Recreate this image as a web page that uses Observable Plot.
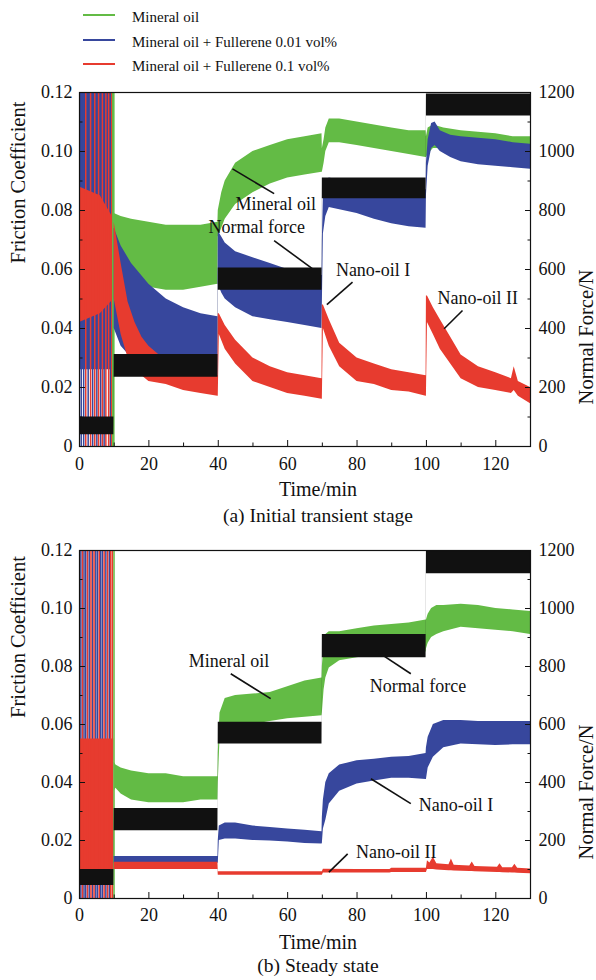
<!DOCTYPE html>
<html>
<head>
<meta charset="utf-8">
<script src="https://cdn.jsdelivr.net/npm/d3@7"></script>
<script src="https://cdn.jsdelivr.net/npm/@observablehq/plot@0.6"></script>
<style>
  body { margin: 0; background: #fff; font-family: "Liberation Serif", "Times New Roman", serif; color: #111; }
  #fig { position: relative; width: 596px; height: 980px; overflow: hidden; background: #fff; }
  .sw { position: absolute; left: 83px; width: 32px; height: 0; border-top: 2px solid; }
  .lab { position: absolute; left: 132px; font-size: 15px; line-height: 18px; white-space: nowrap; }
  #pa { position: absolute; left: 0; top: 75px; }
  #pb { position: absolute; left: 0; top: 530px; }
</style>
</head>
<body>
<div id="fig">
  <div id="legend"></div>
  <div id="pa"></div>
  <div id="pb"></div>
</div>
<script>
// ---- series names and colours ----
const seriesNames = ["Mineral oil", "Mineral oil + Fullerene 0.01 vol%", "Mineral oil + Fullerene 0.1 vol%"];
const seriesColors = ["#63bb45", "#37479d", "#e73b2f"];
const forceColor = "#111111";
const N_PER_UNIT = 10000; // 1200 N on the right axis sits level with 0.12 on the left

// ---- axis ticks ----
const xMajor = [0, 20, 40, 60, 80, 100, 120];
const xMinor = [10, 30, 50, 70, 90, 110, 130];
const yMajor = [0, 0.02, 0.04, 0.06, 0.08, 0.10, 0.12];
const yMinor = [0.01, 0.03, 0.05, 0.07, 0.09, 0.11];

// ================= (a) Initial transient stage =================
// running-in oscillation, 0-10 min
const spikeBlueA = [0.5, 1.2, 2.5, 3.8, 5.0, 6.1, 7.1, 8.9];
const spikeRedA = [1.8, 3.2, 4.4, 5.5, 6.6, 7.6, 8.4, 9.3];
const spikeGreenA = [9.6, 9.9];
const burstBlueA_t = [0, 9.9], burstBlueA_lo = [0.026, 0.026], burstBlueA_hi = [0.12, 0.12];
const burstRedA_t = [0, 6, 9.9], burstRedA_lo = [0.042, 0.045, 0.050], burstRedA_hi = [0.088, 0.085, 0.077];

// friction coefficient envelopes (lower / upper edge of the noisy trace)
const greenA_t  = [10, 12, 15, 20, 25, 30, 35, 39.9, 40, 41, 42, 45, 50, 55, 60, 65, 69.9, 70, 70.5, 71, 72, 75, 80, 85, 90, 95, 99.9, 100, 100.5, 102, 105, 110, 115, 120, 125, 130];
const greenA_hi = [0.079, 0.078, 0.077, 0.076, 0.075, 0.075, 0.075, 0.076, 0.080, 0.086, 0.090, 0.096, 0.100, 0.102, 0.104, 0.105, 0.106, 0.101, 0.104, 0.108, 0.111, 0.111, 0.110, 0.109, 0.108, 0.107, 0.107, 0.105, 0.108, 0.109, 0.108, 0.107, 0.1065, 0.106, 0.105, 0.105];
const greenA_lo = [0.062, 0.058, 0.056, 0.054, 0.053, 0.053, 0.054, 0.055, 0.071, 0.074, 0.077, 0.082, 0.086, 0.089, 0.091, 0.092, 0.093, 0.093, 0.096, 0.100, 0.103, 0.103, 0.102, 0.101, 0.100, 0.099, 0.098, 0.098, 0.099, 0.101, 0.101, 0.101, 0.101, 0.101, 0.100, 0.100];

const blueA_t  = [10, 12, 15, 20, 25, 30, 35, 39.9, 40, 41, 42, 45, 50, 55, 60, 65, 69.9, 70, 70.3, 71, 72, 76, 80, 85, 90, 95, 99.9, 100, 100.5, 101.5, 102.5, 104, 107, 110, 115, 120, 125, 130];
const blueA_hi = [0.074, 0.068, 0.062, 0.055, 0.050, 0.047, 0.045, 0.044, 0.073, 0.071, 0.069, 0.066, 0.064, 0.062, 0.060, 0.059, 0.058, 0.070, 0.085, 0.090, 0.091, 0.090, 0.090, 0.089, 0.088, 0.087, 0.087, 0.096, 0.104, 0.1095, 0.110, 0.107, 0.1055, 0.105, 0.1045, 0.104, 0.103, 0.1025];
const blueA_lo = [0.040, 0.034, 0.030, 0.026, 0.024, 0.023, 0.022, 0.021, 0.055, 0.052, 0.050, 0.047, 0.044, 0.043, 0.042, 0.041, 0.040, 0.048, 0.072, 0.078, 0.081, 0.080, 0.079, 0.077, 0.0755, 0.0745, 0.074, 0.085, 0.095, 0.101, 0.102, 0.100, 0.098, 0.0965, 0.0955, 0.095, 0.0945, 0.094];

const redA_t  = [10, 11, 12, 14, 16, 18, 20, 25, 30, 35, 39.9, 40, 40.3, 42, 45, 50, 55, 60, 65, 69.9, 70, 70.3, 72, 75, 80, 85, 90, 95, 99.9, 100, 100.3, 102, 104, 107, 110, 115, 120, 124.5, 125.3, 126.5, 130];
const redA_hi = [0.076, 0.069, 0.062, 0.049, 0.042, 0.037, 0.034, 0.029, 0.026, 0.025, 0.024, 0.045, 0.045, 0.041, 0.036, 0.030, 0.027, 0.025, 0.024, 0.023, 0.048, 0.048, 0.043, 0.035, 0.030, 0.028, 0.026, 0.025, 0.024, 0.051, 0.051, 0.047, 0.043, 0.037, 0.031, 0.027, 0.025, 0.023, 0.027, 0.022, 0.020];
const redA_lo = [0.050, 0.044, 0.038, 0.030, 0.027, 0.024, 0.022, 0.021, 0.019, 0.018, 0.017, 0.017, 0.038, 0.033, 0.028, 0.022, 0.020, 0.018, 0.017, 0.016, 0.016, 0.040, 0.034, 0.027, 0.022, 0.021, 0.019, 0.0185, 0.017, 0.017, 0.042, 0.038, 0.033, 0.028, 0.023, 0.020, 0.019, 0.018, 0.019, 0.017, 0.0145];

// normal force envelope, N
const forceA_t  = [0, 9.9, 10, 39.9, 40, 69.9, 70, 99.9, 100, 130];
const forceA_hi = [100, 100, 312, 312, 605, 605, 910, 910, 1195, 1195];
const forceA_lo = [40, 40, 235, 235, 530, 530, 840, 840, 1120, 1120];

// callouts
const labelsA = ["Mineral oil", "Normal force", "Nano-oil I", "Nano-oil II"];
const labelTimeA = [45.0, 37.2, 73.9, 103.2];
const labelValueA = [0.0820, 0.0742, 0.0597, 0.0502];
const leaderFromA = [[44.1, 0.0941], [56.1, 0.0698], [78.7, 0.0557], [110.4, 0.0461]];
const leaderToA = [[56.1, 0.0857], [67.2, 0.0602], [71.3, 0.0481], [105.1, 0.0399]];

// ================= (b) Steady state =================
const spikeBlueB = [0.4, 1.3, 1.8, 2.8, 3.75, 4.7, 5.2, 6.1, 6.6, 7.6, 8.6];
const spikeRedB = [0.87, 2.3, 3.3, 4.2, 5.7, 7.1, 8.1, 9.0, 9.5];
const spikeGreenB = [9.95];
const burstBlueB_t = [], burstBlueB_lo = [], burstBlueB_hi = [];
const burstRedB_t = [0, 9.9], burstRedB_lo = [0.010, 0.010], burstRedB_hi = [0.055, 0.055];

const greenB_t  = [10, 10.5, 12, 15, 20, 25, 30, 35, 39.9, 40, 40.5, 42, 45, 50, 55, 60, 65, 69.9, 70, 70.5, 71, 72, 75, 80, 85, 90, 95, 99.9, 100, 100.5, 101.5, 103, 105, 110, 115, 120, 125, 130];
const greenB_hi = [0.047, 0.046, 0.045, 0.044, 0.043, 0.043, 0.042, 0.042, 0.042, 0.050, 0.064, 0.069, 0.070, 0.0705, 0.071, 0.073, 0.075, 0.076, 0.080, 0.088, 0.091, 0.092, 0.092, 0.093, 0.094, 0.0945, 0.095, 0.096, 0.096, 0.098, 0.100, 0.101, 0.101, 0.1015, 0.101, 0.100, 0.0995, 0.099];
const greenB_lo = [0.037, 0.038, 0.036, 0.034, 0.033, 0.033, 0.033, 0.034, 0.034, 0.040, 0.055, 0.058, 0.059, 0.060, 0.061, 0.062, 0.0625, 0.063, 0.064, 0.072, 0.076, 0.0795, 0.082, 0.083, 0.084, 0.084, 0.085, 0.085, 0.086, 0.088, 0.090, 0.091, 0.092, 0.0935, 0.093, 0.0925, 0.092, 0.091];

const blueB_t  = [10, 39.9, 40, 40.3, 42, 45, 50, 55, 60, 65, 69.9, 70, 70.3, 71, 72, 75, 80, 85, 90, 95, 99.9, 100, 100.5, 102, 105, 110, 115, 120, 125, 130];
const blueB_hi = [0.0145, 0.0145, 0.020, 0.025, 0.026, 0.026, 0.025, 0.0245, 0.024, 0.0235, 0.023, 0.028, 0.034, 0.040, 0.043, 0.046, 0.0475, 0.048, 0.0487, 0.049, 0.050, 0.052, 0.0556, 0.060, 0.0614, 0.0614, 0.061, 0.061, 0.061, 0.061];
const blueB_lo = [0.0122, 0.0122, 0.012, 0.020, 0.0205, 0.0205, 0.020, 0.0198, 0.0195, 0.019, 0.0188, 0.019, 0.024, 0.027, 0.0326, 0.037, 0.0395, 0.0405, 0.0415, 0.0415, 0.041, 0.041, 0.045, 0.0487, 0.052, 0.0533, 0.053, 0.0528, 0.053, 0.053];

const redB_t  = [10, 39.9, 40, 69.9, 70, 70.3, 80, 89.5, 90, 99.9, 100, 100.3, 101, 102, 103, 106.5, 107.2, 108, 112.5, 113.2, 114, 120.5, 121.2, 122, 124.8, 125.5, 126.3, 130];
const redB_hi = [0.0125, 0.0125, 0.0092, 0.0092, 0.0092, 0.0101, 0.0100, 0.0100, 0.0104, 0.0104, 0.0104, 0.0130, 0.0122, 0.0142, 0.0120, 0.0116, 0.0136, 0.0115, 0.0112, 0.0126, 0.0110, 0.0108, 0.0120, 0.0106, 0.0106, 0.0118, 0.0104, 0.0102];
const redB_lo = [0.0100, 0.0100, 0.0080, 0.0080, 0.0080, 0.0088, 0.0088, 0.0088, 0.0090, 0.0090, 0.0090, 0.0100, 0.0100, 0.0100, 0.0098, 0.0096, 0.0096, 0.0095, 0.0093, 0.0093, 0.0092, 0.0090, 0.0090, 0.0089, 0.0088, 0.0088, 0.0087, 0.0085];

const forceB_t  = [0, 9.9, 10, 39.9, 40, 69.9, 70, 99.9, 100, 130];
const forceB_hi = [100, 100, 310, 310, 608, 608, 910, 910, 1200, 1200];
const forceB_lo = [45, 45, 234, 234, 533, 533, 830, 830, 1120, 1120];

const labelsB = ["Mineral oil", "Normal force", "Nano-oil I", "Nano-oil II"];
const labelTimeB = [31.5, 83.7, 97.8, 79.7];
const labelValueB = [0.0818, 0.0732, 0.0321, 0.0160];
const leaderFromB = [[43.6, 0.0775], [95.5, 0.0775], [95.5, 0.0327], [77.3, 0.0154]];
const leaderToB = [[55.1, 0.0689], [85.4, 0.0855], [84.0, 0.0413], [71.9, 0.0091]];

const captions = ["(a) Initial transient stage", "(b) Steady state"];

// ---- legend ----
const legend = document.getElementById("legend");
seriesNames.forEach((name, i) => {
  const sw = document.createElement("div");
  sw.className = "sw";
  sw.style.top = (14 + 24.5 * i) + "px";
  sw.style.borderColor = seriesColors[i];
  legend.appendChild(sw);
  const lab = document.createElement("div");
  lab.className = "lab";
  lab.style.top = (8.4 + 24.5 * i) + "px";
  lab.textContent = name;
  legend.appendChild(lab);
});

// ---- one panel ----
function band(t, lo, hi, k = 1) {
  return t.map((d, i) => ({t: d, lo: lo[i] / k, hi: hi[i] / k}));
}

function drawPanel(p) {
  const [GREEN, BLUE, RED] = seriesColors;
  const idx = p.labels.map((_, i) => i);
  const fmtLeft = d => (d === 0 ? "0" : d.toFixed(2));
  const fmtRight = d => String(Math.round(d * N_PER_UNIT));
  const area = (rows, fill) => Plot.areaY(rows, {x: "t", y1: "lo", y2: "hi", fill, clip: true});
  const spikes = (ts, stroke) => Plot.ruleX(ts, {x: d => d, stroke, strokeWidth: 1.5, clip: true});
  const serif = "'Liberation Serif', 'Times New Roman', serif";

  return Plot.plot({
    width: 596,
    height: p.height,
    marginLeft: 79,
    marginRight: 66,
    marginTop: p.marginTop,
    marginBottom: p.marginBottom,
    style: {fontFamily: serif, fontSize: "18px", color: "#111", background: "transparent", overflow: "visible"},
    x: {domain: [0, 130]},
    y: {domain: [0, 0.12]},
    marks: [
      // running-in oscillation
      area(band(p.burstBlue.t, p.burstBlue.lo, p.burstBlue.hi), BLUE),
      spikes(p.spikeBlue, BLUE),
      area(band(p.burstRed.t, p.burstRed.lo, p.burstRed.hi), RED),
      spikes(p.spikeRed, RED),
      spikes(p.spikeGreen, GREEN),
      // friction traces
      area(band(p.green.t, p.green.lo, p.green.hi), GREEN),
      area(band(p.blue.t, p.blue.lo, p.blue.hi), BLUE),
      area(band(p.red.t, p.red.lo, p.red.hi), RED),
      // normal force on the right-hand scale
      area(band(p.force.t, p.force.lo, p.force.hi, N_PER_UNIT), forceColor),
      // frame and inward ticks
      Plot.frame({stroke: "#111", strokeWidth: 1.2}),
      Plot.axisX(xMajor, {tickSize: -6, tickFormat: () => "", label: null}),
      Plot.axisX(xMinor, {tickSize: -3.5, tickFormat: () => "", label: null}),
      Plot.axisX(xMajor, {tickSize: 0, tickPadding: p.xPad, label: null}),
      Plot.axisY(yMajor, {anchor: "left", tickSize: -6, tickFormat: () => "", label: null}),
      Plot.axisY(yMinor, {anchor: "left", tickSize: -3.5, tickFormat: () => "", label: null}),
      Plot.axisY(yMajor, {anchor: "left", tickSize: 0, tickPadding: 7, tickFormat: fmtLeft, label: null}),
      Plot.axisY(yMajor, {anchor: "right", tickSize: -6, tickFormat: () => "", label: null}),
      Plot.axisY(yMinor, {anchor: "right", tickSize: -3.5, tickFormat: () => "", label: null}),
      Plot.axisY(yMajor, {anchor: "right", tickSize: 0, tickPadding: 8, tickFormat: fmtRight, label: null}),
      // axis titles and caption
      Plot.text(["Friction Coefficient"], {frameAnchor: "left", rotate: -90, dx: -61.5, dy: p.titleDy, fontSize: 20.5}),
      Plot.text(["Normal Force/N"], {frameAnchor: "right", rotate: -90, dx: 55.5, dy: 0, fontSize: 20.5}),
      Plot.text(["Time/min"], {frameAnchor: "bottom", lineAnchor: "bottom", dx: 13, dy: p.timeDy, fontSize: 20}),
      Plot.text([p.caption], {frameAnchor: "bottom", lineAnchor: "bottom", dx: 13, dy: p.captionDy, fontSize: 19.5}),
      // callouts
      Plot.link(idx, {
        x1: i => p.leaderFrom[i][0], y1: i => p.leaderFrom[i][1],
        x2: i => p.leaderTo[i][0], y2: i => p.leaderTo[i][1],
        stroke: "#111", strokeWidth: 1.6
      }),
      Plot.text(idx, {
        x: i => p.labelTime[i], y: i => p.labelValue[i], text: i => p.labels[i],
        textAnchor: "start", lineAnchor: "middle", fontSize: 18, fill: "#111"
      })
    ]
  });
}

document.getElementById("pa").appendChild(drawPanel({
  height: 455, marginTop: 17, marginBottom: 84, xPad: 11, titleDy: -6, timeDy: 49, captionDy: 75,
  caption: captions[0],
  spikeBlue: spikeBlueA, spikeRed: spikeRedA, spikeGreen: spikeGreenA,
  burstBlue: {t: burstBlueA_t, lo: burstBlueA_lo, hi: burstBlueA_hi},
  burstRed: {t: burstRedA_t, lo: burstRedA_lo, hi: burstRedA_hi},
  green: {t: greenA_t, lo: greenA_lo, hi: greenA_hi},
  blue: {t: blueA_t, lo: blueA_lo, hi: blueA_hi},
  red: {t: redA_t, lo: redA_lo, hi: redA_hi},
  force: {t: forceA_t, lo: forceA_lo, hi: forceA_hi},
  labels: labelsA, labelTime: labelTimeA, labelValue: labelValueA,
  leaderFrom: leaderFromA, leaderTo: leaderToA
}));

document.getElementById("pb").appendChild(drawPanel({
  height: 450, marginTop: 20, marginBottom: 82, xPad: 10, titleDy: -6.5, timeDy: 50, captionDy: 73,
  caption: captions[1],
  spikeBlue: spikeBlueB, spikeRed: spikeRedB, spikeGreen: spikeGreenB,
  burstBlue: {t: burstBlueB_t, lo: burstBlueB_lo, hi: burstBlueB_hi},
  burstRed: {t: burstRedB_t, lo: burstRedB_lo, hi: burstRedB_hi},
  green: {t: greenB_t, lo: greenB_lo, hi: greenB_hi},
  blue: {t: blueB_t, lo: blueB_lo, hi: blueB_hi},
  red: {t: redB_t, lo: redB_lo, hi: redB_hi},
  force: {t: forceB_t, lo: forceB_lo, hi: forceB_hi},
  labels: labelsB, labelTime: labelTimeB, labelValue: labelValueB,
  leaderFrom: leaderFromB, leaderTo: leaderToB
}));
</script>
</body>
</html>
